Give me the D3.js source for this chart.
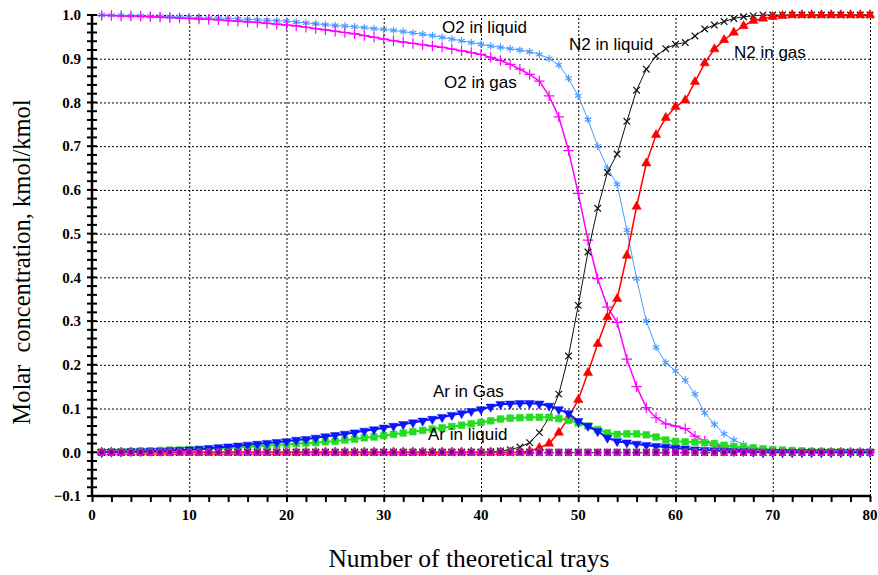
<!DOCTYPE html>
<html>
<head>
<meta charset="utf-8">
<script src="https://cdn.jsdelivr.net/npm/d3@7"></script>
<style>
  body { margin: 0; background: #fff; }
  .seriesLabel { font-family: "Liberation Sans", Arial, sans-serif; font-size: 17px; fill: #000; }
  .grid line { stroke: #000; stroke-dasharray: 2,2; stroke-width: 1; }
</style>
</head>
<body>
<script>
// trays 1..80
let trays = d3.range(1, 81);

let o2Liquid = [1.000,0.999,0.999,0.998,0.998,0.997,0.997,0.996,0.996,0.995,
  0.994,0.993,0.993,0.992,0.991,0.990,0.989,0.988,0.987,0.986,
  0.984,0.982,0.980,0.978,0.976,0.975,0.973,0.971,0.969,0.967,
  0.965,0.962,0.959,0.956,0.953,0.949,0.945,0.941,0.937,0.933,
  0.929,0.926,0.923,0.920,0.916,0.910,0.900,0.886,0.855,0.815,
  0.761,0.700,0.650,0.613,0.508,0.397,0.300,0.240,0.205,0.186,
  0.165,0.133,0.090,0.064,0.042,0.028,0.018,0.010,0.005,0.002,
  0,0,0,0,0,0,0,0,0,0];

let o2Gas = [0.999,0.999,0.998,0.998,0.997,0.996,0.995,0.994,0.993,0.992,
  0.991,0.990,0.989,0.987,0.986,0.984,0.983,0.981,0.979,0.977,
  0.975,0.972,0.969,0.966,0.963,0.960,0.957,0.953,0.949,0.945,
  0.941,0.938,0.935,0.932,0.929,0.926,0.922,0.918,0.914,0.910,
  0.903,0.896,0.887,0.876,0.864,0.849,0.815,0.767,0.690,0.592,
  0.485,0.397,0.332,0.297,0.213,0.150,0.102,0.079,0.065,0.060,
  0.054,0.037,0.025,0.016,0.010,0.006,0.003,0.001,0,0,
  0,0,0,0,0,0,0,0,0,0];

let n2Liquid = [0,0,0,0,0,0,0,0,0,0,
  0,0,0,0,0,0,0,0,0,0,
  0,0,0,0,0,0,0,0,0,0,
  0,0,0,0,0,0,0,0,0,0,
  0.001,0.003,0.006,0.012,0.022,0.045,0.079,0.133,0.220,0.336,
  0.458,0.558,0.640,0.682,0.757,0.828,0.876,0.906,0.923,0.933,
  0.937,0.952,0.968,0.977,0.985,0.992,0.996,0.998,1,1,
  1,1,1,1,1,1,1,1,1,1];

let n2Gas = [0,0,0,0,0,0,0,0,0,0,
  0,0,0,0,0,0,0,0,0,0,
  0,0,0,0,0,0,0,0,0,0,
  0,0,0,0,0,0,0,0,0,0,
  0,0,0,0,0.003,0.010,0.020,0.045,0.080,0.120,
  0.182,0.248,0.309,0.351,0.450,0.562,0.661,0.726,0.765,0.790,
  0.805,0.847,0.890,0.922,0.943,0.960,0.975,0.987,0.992,0.996,
  0.998,1,1,1,1,1,1,1,1,1];

let arGas = [0,0.001,0.001,0.002,0.002,0.003,0.003,0.004,0.005,0.006,
  0.007,0.009,0.011,0.013,0.015,0.017,0.019,0.021,0.023,0.025,
  0.028,0.030,0.033,0.036,0.039,0.042,0.045,0.049,0.052,0.056,
  0.060,0.064,0.068,0.072,0.076,0.080,0.085,0.089,0.094,0.098,
  0.104,0.110,0.111,0.112,0.112,0.111,0.106,0.098,0.089,0.071,
  0.060,0.048,0.033,0.025,0.022,0.019,0.016,0.014,0.012,0.010,
  0.008,0.006,0.005,0.004,0.003,0.002,0.002,0.001,0,0,
  0,0,0,0,0,0,0,0,0,0];

let arLiquid = [0,0.001,0.001,0.002,0.003,0.003,0.004,0.005,0.005,0.006,
  0.007,0.008,0.009,0.010,0.011,0.012,0.014,0.015,0.017,0.018,
  0.020,0.021,0.022,0.024,0.025,0.028,0.030,0.033,0.035,0.038,
  0.041,0.044,0.047,0.050,0.053,0.056,0.059,0.062,0.065,0.068,
  0.072,0.076,0.078,0.079,0.080,0.080,0.080,0.077,0.073,0.067,
  0.060,0.052,0.044,0.041,0.042,0.042,0.040,0.035,0.028,0.025,
  0.024,0.023,0.022,0.020,0.016,0.013,0.011,0.010,0.008,0.006,
  0.005,0.004,0.003,0.002,0.002,0.001,0.001,0,0,0];

// other components that stay at zero the whole column
let zeroTrace = [0,0,0,0,0,0,0,0,0,0, 0,0,0,0,0,0,0,0,0,0,
  0,0,0,0,0,0,0,0,0,0, 0,0,0,0,0,0,0,0,0,0,
  0,0,0,0,0,0,0,0,0,0, 0,0,0,0,0,0,0,0,0,0,
  0,0,0,0,0,0,0,0,0,0, 0,0,0,0,0,0,0,0,0,0];

let xTicks = [0, 10, 20, 30, 40, 50, 60, 70, 80];
let yTicks = [-0.1, 0, 0.1, 0.2, 0.3, 0.4, 0.5, 0.6, 0.7, 0.8, 0.9, 1.0];

let serif = '"Liberation Serif", "Times New Roman", serif';

let margin = {top: 15, right: 8, bottom: 79, left: 92};
let W = 878, H = 575;
let width = W - margin.left - margin.right;
let height = H - margin.top - margin.bottom;

let xScale = d3.scaleLinear().domain([0, 80]).range([0, width]);
let yScale = d3.scaleLinear().domain([-0.1, 1.0]).range([height, 0]);

let svg = d3.select("body").append("svg")
  .attr("width", W)
  .attr("height", H)
  .append("g")
  .attr("transform", "translate(" + margin.left + "," + margin.top + ")");

// dotted gridlines
svg.append("g")
  .attr("class", "grid")
  .attr("transform", "translate(0," + height + ")")
  .call(d3.axisBottom(xScale).tickValues(xTicks.slice(1)).tickSize(-height).tickFormat(""))
  .call(g => g.select(".domain").remove());

svg.append("g")
  .attr("class", "grid")
  .call(d3.axisLeft(yScale).tickValues(yTicks.slice(1)).tickSize(-width).tickFormat(""))
  .call(g => g.select(".domain").remove());

// series: data, color, line width, marker
let series = [
  {data: o2Liquid, color: "#4a9dff", lw: 1, sym: d3.symbolAsterisk, size: 40, fill: false, label: "O2 in liquid", lx: 442, ly: 33},
  {data: o2Gas, color: "#ff00ff", lw: 1.5, sym: d3.symbolPlus, size: 38, fill: false, label: "O2 in gas", lx: 444, ly: 88},
  {data: n2Liquid, color: "#111111", lw: 1, sym: d3.symbolTimes, size: 30, fill: false, label: "N2 in liquid", lx: 569, ly: 50},
  {data: n2Gas, color: "#ff0000", lw: 1.5, sym: d3.symbolTriangle, size: 38, fill: true, label: "N2 in gas", lx: 734, ly: 58},
  {data: arLiquid, color: "#22dd22", lw: 2, sym: d3.symbolSquare, size: 45, fill: true, label: "Ar in liquid", lx: 428, ly: 440},
  {data: arGas, color: "#0a14ff", lw: 2, sym: d3.symbolTriangle, size: 38, fill: true, rot: 180, label: "Ar in Gas", lx: 433, ly: 397}
];

let line = d3.line()
  .x(function(d, i) { return xScale(trays[i]); })
  .y(function(d) { return yScale(d); });

series.forEach(function(s) {
  svg.append("path")
    .datum(s.data)
    .attr("fill", "none")
    .attr("stroke", s.color)
    .attr("stroke-width", s.lw)
    .attr("d", line);

  svg.selectAll(null)
    .data(s.data)
    .enter().append("path")
    .attr("d", d3.symbol().type(s.sym).size(s.size))
    .attr("transform", function(d, i) {
      return "translate(" + xScale(trays[i]) + "," + yScale(d) + ")" + (s.rot ? " rotate(" + s.rot + ")" : "");
    })
    .attr("fill", s.fill ? s.color : "none")
    .attr("stroke", s.color)
    .attr("stroke-width", s.fill ? 0.5 : 1.2);
});

// zero row markers
svg.selectAll(".zsq")
  .data(zeroTrace)
  .enter().append("path")
  .attr("d", d3.symbol().type(d3.symbolSquare).size(50))
  .attr("transform", function(d, i) { return "translate(" + xScale(trays[i]) + "," + yScale(d) + ")"; })
  .attr("fill", "#22dd22");

svg.selectAll(".zx")
  .data(zeroTrace)
  .enter().append("path")
  .attr("d", d3.symbol().type(d3.symbolTimes).size(30))
  .attr("transform", function(d, i) { return "translate(" + xScale(trays[i]) + "," + yScale(d) + ")"; })
  .attr("fill", "none")
  .attr("stroke", "#000")
  .attr("stroke-width", 1.2);

svg.selectAll(".zc")
  .data(zeroTrace)
  .enter().append("circle")
  .attr("cx", function(d, i) { return xScale(trays[i]); })
  .attr("cy", function(d) { return yScale(d); })
  .attr("r", 3)
  .attr("fill", "#6a0a6a")
  .attr("stroke", "#ee00ee")
  .attr("stroke-width", 1.5);

// series labels
series.forEach(function(s) {
  svg.append("text")
    .attr("class", "seriesLabel")
    .attr("x", s.lx - margin.left)
    .attr("y", s.ly - margin.top)
    .text(s.label);
});

// axes
let xAxis = svg.append("g")
  .attr("transform", "translate(0," + height + ")");
xAxis.append("line")
  .attr("x1", 0).attr("x2", width)
  .attr("stroke", "#000").attr("stroke-width", 2.5);
xAxis.call(d3.axisBottom(xScale).ticks(40).tickSize(6).tickFormat(""))
  .call(g => g.select(".domain").remove())
  .call(g => g.selectAll(".tick line").attr("stroke-width", 2));
xAxis.selectAll(".xlab")
  .data(xTicks)
  .enter().append("text")
  .attr("x", d => xScale(d))
  .attr("y", 24)
  .attr("text-anchor", "middle")
  .style("font-family", serif)
  .style("font-weight", "bold")
  .style("font-size", "15px")
  .style("fill", "#000")
  .text(d => d);

let yAxis = svg.append("g");
yAxis.append("line")
  .attr("y1", 0).attr("y2", height)
  .attr("stroke", "#000").attr("stroke-width", 2.5);
yAxis.selectAll(".ytick")
  .data(d3.range(0, 56).map(k => -0.1 + k * 0.02))
  .enter().append("line")
  .attr("x1", -5).attr("x2", 5)
  .attr("y1", d => yScale(d)).attr("y2", d => yScale(d))
  .attr("stroke", "#000").attr("stroke-width", 2);
yAxis.selectAll(".ylab")
  .data(yTicks)
  .enter().append("text")
  .attr("x", -11)
  .attr("y", d => yScale(d))
  .attr("dy", "0.35em")
  .attr("text-anchor", "end")
  .style("font-family", serif)
  .style("font-weight", "bold")
  .style("font-size", "15px")
  .style("fill", "#000")
  .text(d => d3.format(".1f")(d));

// axis titles
svg.append("text")
  .attr("transform", "rotate(270)")
  .attr("x", -(262 - margin.top))
  .attr("y", 30 - margin.left)
  .attr("text-anchor", "middle")
  .style("font-family", serif)
  .style("font-size", "24.5px")
  .style("white-space", "pre")
  .text("Molar  concentration, kmol/kmol");

svg.append("text")
  .attr("x", 469 - margin.left)
  .attr("y", 567 - margin.top)
  .attr("text-anchor", "middle")
  .style("font-family", serif)
  .style("font-size", "25.5px")
  .text("Number of theoretical trays");
</script>
</body>
</html>
